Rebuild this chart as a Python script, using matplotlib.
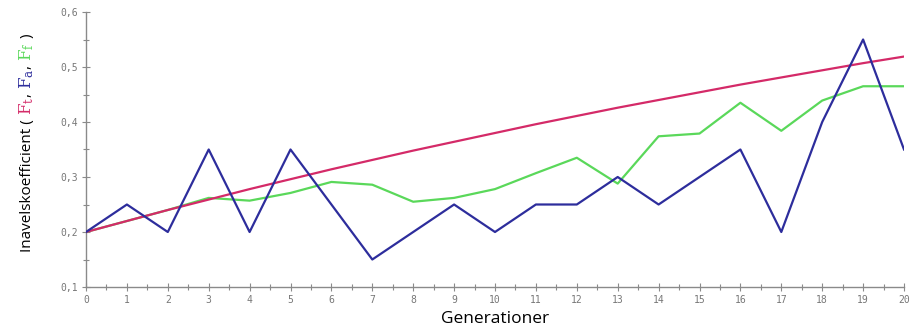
import matplotlib
matplotlib.use("Agg")
import matplotlib.pyplot as plt
from matplotlib.ticker import MultipleLocator, FuncFormatter

# inavelskoefficient per generation
generationer = list(range(21))
F_t = [0.200, 0.220, 0.240, 0.259, 0.278, 0.296, 0.314, 0.331, 0.348, 0.364, 0.380,
       0.396, 0.411, 0.426, 0.440, 0.454, 0.468, 0.481, 0.494, 0.507, 0.519]
F_a = [0.20, 0.25, 0.20, 0.35, 0.20, 0.35, 0.25, 0.15, 0.20, 0.25, 0.20,
       0.25, 0.25, 0.30, 0.25, 0.30, 0.35, 0.20, 0.40, 0.55, 0.35]
F_f = [0.200, 0.220, 0.240, 0.262, 0.257, 0.271, 0.291, 0.286, 0.255, 0.262, 0.278,
       0.307, 0.335, 0.288, 0.374, 0.379, 0.435, 0.384, 0.439, 0.465, 0.465]

red = "#d42a68"
blue = "#2d2d9c"
green = "#5ad85a"
grey = "#8a8a8a"

fig = plt.figure(figsize=(9.19, 3.34), dpi=100)
ax = fig.add_axes([86 / 919, 47 / 334, 818 / 919, 275 / 334])

ax.plot(generationer, F_t, color=red, lw=1.6, zorder=3)
ax.plot(generationer, F_f, color=green, lw=1.6, zorder=2)
ax.plot(generationer, F_a, color=blue, lw=1.6, zorder=4)

ax.set_xlim(0, 20)
ax.set_ylim(0.1, 0.6)
ax.xaxis.set_major_locator(MultipleLocator(1))
ax.xaxis.set_minor_locator(MultipleLocator(0.5))
ax.yaxis.set_major_locator(MultipleLocator(0.1))
ax.yaxis.set_minor_locator(MultipleLocator(0.05))
ax.xaxis.set_major_formatter(FuncFormatter(lambda v, p: f"{int(round(v))}"))
ax.yaxis.set_major_formatter(FuncFormatter(lambda v, p: f"{v:.1f}".replace(".", ",")))

for s in ["top", "right"]:
    ax.spines[s].set_visible(False)
for s in ["left", "bottom"]:
    ax.spines[s].set_color(grey)
    ax.spines[s].set_linewidth(1.0)

ax.tick_params(which="both", direction="inout", color=grey, width=0.8)
ax.tick_params(which="major", length=6, pad=3, labelsize=7, labelcolor="#777777")
ax.tick_params(which="minor", length=5)
for lab in ax.get_xticklabels() + ax.get_yticklabels():
    lab.set_family("DejaVu Sans Mono")

fig.text(0.5386, 0.02, "Generationer", ha="center", va="bottom",
         fontsize=12.5, family="Open Sans")

# y label in coloured pieces, stacked bottom to top
pieces = [("Inavelskoefficient ( ", "black", 11),
          (r"$\mathrm{F}_{\mathrm{t}}$", red, 12), (", ", "black", 11),
          (r"$\mathrm{F}_{\mathrm{a}}$", blue, 12), (", ", "black", 11),
          (r"$\mathrm{F}_{\mathrm{f}}$", green, 12), (" )", "black", 11)]
plt.rcParams["mathtext.fontset"] = "dejavuserif"
fig.canvas.draw()
renderer = fig.canvas.get_renderer()
ypix = 82
for txt, col, fs in pieces:
    t = fig.text(27 / 919, ypix / 334, txt, rotation=90, ha="center", va="bottom",
                 color=col, fontsize=fs, family="Open Sans")
    bb = t.get_window_extent(renderer)
    ypix += bb.height

fig.savefig("out.png", dpi=100)
